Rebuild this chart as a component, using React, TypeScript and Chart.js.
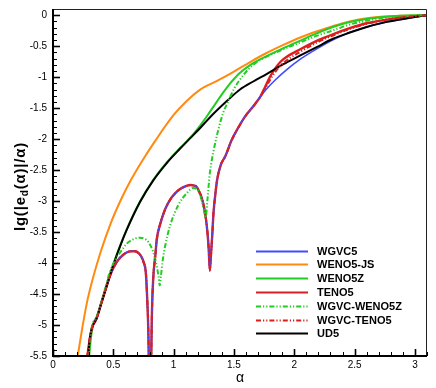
import React, { useEffect, useRef } from "react";
import { Chart, registerables } from "chart.js";

Chart.register(...registerables);

// ---------- axis definitions ----------
const X_MIN = 0;
const X_MAX = 3.1;
const Y_MIN = -5.5;
const Y_MAX = 0.1;
const X_MAJOR_TICKS = [0, 0.5, 1, 1.5, 2, 2.5, 3];
const X_TICK_LABELS = ["0", "0.5", "1", "1.5", "2", "2.5", "3"];
const Y_MAJOR_TICKS = [0, -0.5, -1, -1.5, -2, -2.5, -3, -3.5, -4, -4.5, -5, -5.5];
const Y_TICK_LABELS = ["0", "-0.5", "-1", "-1.5", "-2", "-2.5", "-3", "-3.5", "-4", "-4.5", "-5", "-5.5"];
const MINOR_STEP = 0.1;

// ---------- series data (alpha, lg(|e_d(alpha)|/alpha)) ----------
const UD5_ALPHA = [0.29, 0.31, 0.326, 0.36, 0.40, 0.44, 0.50, 0.56, 0.61, 0.72, 0.83, 0.95, 1.05, 1.14, 1.22, 1.30, 1.45, 1.55, 1.66, 1.77, 1.91, 2.05, 2.19, 2.32, 2.46, 2.60, 2.74, 2.88, 3.00, 3.10];
const UD5_LG = [-5.5, -5.16, -5.03, -4.90, -4.65, -4.40, -4.03, -3.71, -3.47, -3.02, -2.67, -2.37, -2.16, -1.98, -1.82, -1.65, -1.37, -1.20, -1.07, -0.95, -0.79, -0.65, -0.51, -0.38, -0.28, -0.19, -0.12, -0.07, -0.03, 0];

const WENO5Z_ALPHA = [0.30, 0.315, 0.335, 0.36, 0.40, 0.44, 0.50, 0.56, 0.61, 0.72, 0.83, 0.95, 1.05, 1.14, 1.20, 1.25, 1.30, 1.36, 1.41, 1.46, 1.50, 1.55, 1.63, 1.70, 1.77, 1.91, 2.05, 2.19, 2.32, 2.46, 2.60, 2.74, 2.88, 3.10];
const WENO5Z_LG = [-5.5, -5.2, -4.97, -4.88, -4.64, -4.39, -4.02, -3.70, -3.46, -3.01, -2.66, -2.36, -2.15, -1.97, -1.83, -1.70, -1.56, -1.39, -1.25, -1.12, -1.03, -0.93, -0.81, -0.73, -0.66, -0.53, -0.41, -0.29, -0.19, -0.11, -0.06, -0.03, -0.01, 0];

const WENO5JS_ALPHA = [0.205, 0.24, 0.28, 0.33, 0.40, 0.48, 0.56, 0.64, 0.73, 0.85, 1.00, 1.10, 1.22, 1.36, 1.50, 1.63, 1.77, 1.91, 2.05, 2.19, 2.33, 2.46, 2.60, 2.74, 2.88, 3.10];
const WENO5JS_LG = [-5.5, -5.08, -4.65, -4.25, -3.79, -3.35, -2.99, -2.68, -2.38, -2.02, -1.61, -1.40, -1.20, -1.06, -0.91, -0.76, -0.61, -0.48, -0.36, -0.26, -0.17, -0.10, -0.05, -0.02, -0.01, 0];

// shared part of TENO5 / WGVC5 / WGVC-TENO5 (they coincide up to alpha ~ 1.72)
const LOBE_ALPHA = [0.285, 0.31, 0.326, 0.36, 0.40, 0.44, 0.47, 0.50, 0.54, 0.58, 0.61, 0.65, 0.68, 0.71, 0.73, 0.75, 0.77, 0.78, 0.79, 0.804, 0.82, 0.83, 0.85, 0.86, 0.89, 0.93, 0.97, 1.01, 1.05, 1.10, 1.14, 1.17, 1.19, 1.21, 1.23, 1.25, 1.265, 1.28, 1.29, 1.30, 1.31, 1.32, 1.33, 1.345, 1.36, 1.39, 1.43, 1.48, 1.54, 1.59, 1.68, 1.72];
const LOBE_LG = [-5.5, -5.16, -5.03, -4.90, -4.65, -4.40, -4.22, -4.08, -3.95, -3.87, -3.83, -3.81, -3.81, -3.84, -3.89, -3.98, -4.17, -4.54, -5.08, -6.6, -4.81, -4.27, -3.84, -3.62, -3.36, -3.13, -2.98, -2.88, -2.81, -2.76, -2.74, -2.75, -2.77, -2.84, -2.93, -3.08, -3.25, -3.50, -3.75, -4.12, -3.85, -3.55, -3.20, -2.90, -2.66, -2.42, -2.27, -2.02, -1.80, -1.64, -1.42, -1.31];

const TENO5_TAIL_ALPHA = [1.76, 1.80, 1.86, 1.91, 2.05, 2.19, 2.33, 2.46, 2.60, 2.74, 2.88, 3.10];
const TENO5_TAIL_LG = [-1.15, -0.99, -0.81, -0.71, -0.55, -0.41, -0.30, -0.21, -0.13, -0.08, -0.04, 0];

const WGVC_TENO5_TAIL_ALPHA = [1.76, 1.80, 1.86, 1.91, 2.05, 2.19, 2.33, 2.46, 2.60, 2.74, 2.88, 3.10];
const WGVC_TENO5_TAIL_LG = [-1.18, -1.04, -0.87, -0.77, -0.59, -0.44, -0.32, -0.22, -0.14, -0.08, -0.04, 0];

const WGVC5_TAIL_ALPHA = [1.77, 1.84, 1.95, 2.05, 2.19, 2.33, 2.46, 2.60, 2.74, 2.88, 3.00, 3.10];
const WGVC5_TAIL_LG = [-1.19, -1.05, -0.86, -0.71, -0.54, -0.39, -0.28, -0.19, -0.12, -0.07, -0.03, 0];

const WGVC_WENO5Z_ALPHA = [0.295, 0.32, 0.36, 0.42, 0.47, 0.52, 0.56, 0.61, 0.66, 0.72, 0.76, 0.79, 0.83, 0.86, 0.875, 0.885, 0.895, 0.91, 0.93, 0.97, 1.04, 1.11, 1.16, 1.20, 1.23, 1.25, 1.265, 1.28, 1.30, 1.33, 1.37, 1.41, 1.45, 1.50, 1.58, 1.66, 1.77, 1.91, 2.05, 2.19, 2.33, 2.46, 2.60, 2.74, 2.88, 3.10];
const WGVC_WENO5Z_LG = [-5.5, -5.05, -4.88, -4.50, -4.15, -3.93, -3.82, -3.69, -3.62, -3.59, -3.61, -3.66, -3.82, -4.05, -4.22, -4.36, -4.20, -3.95, -3.72, -3.40, -3.06, -2.87, -2.79, -2.82, -2.97, -3.14, -3.28, -2.98, -2.55, -2.20, -1.85, -1.58, -1.40, -1.19, -0.96, -0.80, -0.67, -0.55, -0.44, -0.33, -0.24, -0.15, -0.09, -0.04, -0.02, 0];

// ---------- styles ----------
const BLUE = "#3f4cff";
const ORANGE = "#ff8a10";
const GREEN = "#22cc22";
const RED = "#dc1e1e";
const BLACK = "#000000";
const DASH_DOT_DOT = [5, 2, 1.2, 2, 1.2, 2];
const FONT = "'Liberation Sans', Arial, Helvetica, sans-serif";

const pts = (a: number[], v: number[]) => a.map((x, i) => ({ x, y: v[i] }));

interface SeriesDef {
  label: string;
  data: { x: number; y: number }[];
  color: string;
  dash: number[];
  order: number;
  width: number;
}

const SERIES: SeriesDef[] = [
  { label: "WGVC5", data: pts([...LOBE_ALPHA, ...WGVC5_TAIL_ALPHA], [...LOBE_LG, ...WGVC5_TAIL_LG]), color: BLUE, dash: [], order: 3, width: 1.6 },
  { label: "WENO5-JS", data: pts(WENO5JS_ALPHA, WENO5JS_LG), color: ORANGE, dash: [], order: 6, width: 2 },
  { label: "WENO5Z", data: pts(WENO5Z_ALPHA, WENO5Z_LG), color: GREEN, dash: [], order: 5, width: 2 },
  { label: "TENO5", data: pts([...LOBE_ALPHA, ...TENO5_TAIL_ALPHA], [...LOBE_LG, ...TENO5_TAIL_LG]), color: RED, dash: [], order: 4, width: 2.4 },
  { label: "WGVC-WENO5Z", data: pts(WGVC_WENO5Z_ALPHA, WGVC_WENO5Z_LG), color: GREEN, dash: DASH_DOT_DOT, order: 1, width: 2 },
  { label: "WGVC-TENO5", data: pts([...LOBE_ALPHA, ...WGVC_TENO5_TAIL_ALPHA], [...LOBE_LG, ...WGVC_TENO5_TAIL_LG]), color: RED, dash: DASH_DOT_DOT, order: 0, width: 2 },
  { label: "UD5", data: pts(UD5_ALPHA, UD5_LG), color: BLACK, dash: [], order: 2, width: 2 },
];

const tecplotAxes = {
  id: "tecplotAxes",
  afterDatasetsDraw(chart: any) {
    const { ctx, chartArea: a, scales } = chart;
    const xs = scales.x;
    const ys = scales.y;
    ctx.save();

    // frame
    ctx.strokeStyle = "#222";
    ctx.lineWidth = 1;
    ctx.beginPath();
    ctx.moveTo(a.left, a.top + 0.5);
    ctx.lineTo(a.right - 0.5, a.top + 0.5);
    ctx.lineTo(a.right - 0.5, a.bottom);
    ctx.stroke();
    ctx.strokeStyle = "#000";
    ctx.lineWidth = 2;
    ctx.beginPath();
    ctx.moveTo(a.left, a.top);
    ctx.lineTo(a.left, a.bottom);
    ctx.lineTo(a.right, a.bottom);
    ctx.stroke();

    // ticks (inward)
    for (let k = 0; X_MIN + k * MINOR_STEP <= X_MAX + 1e-9; k++) {
      const v = X_MIN + k * MINOR_STEP;
      const major = X_MAJOR_TICKS.some((t) => Math.abs(t - v) < 1e-6);
      const px = Math.round(xs.getPixelForValue(v)) + 0.5;
      ctx.lineWidth = major ? 1.6 : 1;
      ctx.beginPath();
      ctx.moveTo(px, a.bottom);
      ctx.lineTo(px, a.bottom - (major ? 7 : 4));
      ctx.stroke();
    }
    for (let k = 0; Y_MIN + k * MINOR_STEP <= 0 + 1e-9; k++) {
      const v = Y_MIN + k * MINOR_STEP;
      const major = Y_MAJOR_TICKS.some((t) => Math.abs(t - v) < 1e-6);
      const py = Math.round(ys.getPixelForValue(v)) + 0.5;
      ctx.lineWidth = major ? 1.6 : 1;
      ctx.beginPath();
      ctx.moveTo(a.left, py);
      ctx.lineTo(a.left + (major ? 7 : 4), py);
      ctx.stroke();
    }

    // tick labels
    ctx.fillStyle = "#000";
    ctx.font = `10px ${FONT}`;
    ctx.textAlign = "center";
    ctx.textBaseline = "middle";
    X_MAJOR_TICKS.forEach((v, i) => {
      ctx.fillText(X_TICK_LABELS[i], xs.getPixelForValue(v), a.bottom + 9);
    });
    ctx.textAlign = "right";
    Y_MAJOR_TICKS.forEach((v, i) => {
      ctx.fillText(Y_TICK_LABELS[i], a.left - 6, ys.getPixelForValue(v));
    });

    // x title
    ctx.textAlign = "center";
    ctx.font = `14px ${FONT}`;
    ctx.fillText("α", (a.left + a.right) / 2, a.bottom + 22);

    // y title with subscript
    ctx.save();
    ctx.translate(20, (a.top + a.bottom) / 2 + 4);
    ctx.rotate(-Math.PI / 2);
    const big = `bold 15px ${FONT}`;
    const small = `bold 10px ${FONT}`;
    (ctx as any).letterSpacing = "0.8px";
    const p1 = "lg(|e";
    const sub = "d";
    const p2 = "(α)|/α)";
    ctx.font = big;
    const w1 = ctx.measureText(p1).width;
    const w3 = ctx.measureText(p2).width;
    ctx.font = small;
    const w2 = ctx.measureText(sub).width;
    let cx = -(w1 + w2 + w3) / 2;
    ctx.textAlign = "left";
    ctx.textBaseline = "alphabetic";
    ctx.font = big;
    ctx.fillText(p1, cx, 5);
    cx += w1;
    ctx.font = small;
    ctx.fillText(sub, cx, 8);
    cx += w2;
    ctx.font = big;
    ctx.fillText(p2, cx, 5);
    ctx.restore();
    (ctx as any).letterSpacing = "0px";

    // legend
    const lx0 = 256;
    const lx1 = 308;
    const tx = 317;
    const ly0 = 250.5;
    const dy = 13.8;
    ctx.font = `bold 11px ${FONT}`;
    ctx.textAlign = "left";
    ctx.textBaseline = "middle";
    SERIES.forEach((s, i) => {
      const yy = Math.round(ly0 + i * dy) + 0.5;
      ctx.strokeStyle = s.color;
      ctx.lineWidth = 2;
      ctx.setLineDash(s.dash);
      ctx.beginPath();
      ctx.moveTo(lx0, yy);
      ctx.lineTo(lx1, yy);
      ctx.stroke();
      ctx.setLineDash([]);
      ctx.fillStyle = "#000";
      ctx.fillText(s.label, tx, yy + 0.5);
    });

    ctx.restore();
  },
};

export default function App() {
  const canvasRef = useRef<HTMLCanvasElement | null>(null);

  useEffect(() => {
    const canvas = canvasRef.current;
    if (!canvas) return;
    const chart = new Chart(canvas, {
      type: "line",
      data: {
        datasets: SERIES.map((s) => ({
          label: s.label,
          data: s.data,
          borderColor: s.color,
          backgroundColor: s.color,
          borderWidth: s.width,
          borderDash: s.dash,
          pointRadius: 0,
          fill: false,
          cubicInterpolationMode: "monotone" as const,
          order: s.order,
          clip: 0,
        })),
      },
      options: {
        responsive: false,
        animation: false,
        devicePixelRatio: 1,
        layout: { padding: { left: 53, right: 9, top: 9, bottom: 32 } },
        plugins: {
          legend: { display: false },
          tooltip: { enabled: false },
          title: { display: false },
        },
        scales: {
          x: { type: "linear", min: X_MIN, max: X_MAX, display: false },
          y: { type: "linear", min: Y_MIN, max: Y_MAX, display: false },
        },
      },
      plugins: [tecplotAxes],
    });
    return () => chart.destroy();
  }, []);

  return (
    <div style={{ position: "fixed", left: 0, top: 0, width: 436, height: 388, background: "#fff" }}>
      <canvas ref={canvasRef} width={436} height={388} style={{ display: "block" }} />
    </div>
  );
}
